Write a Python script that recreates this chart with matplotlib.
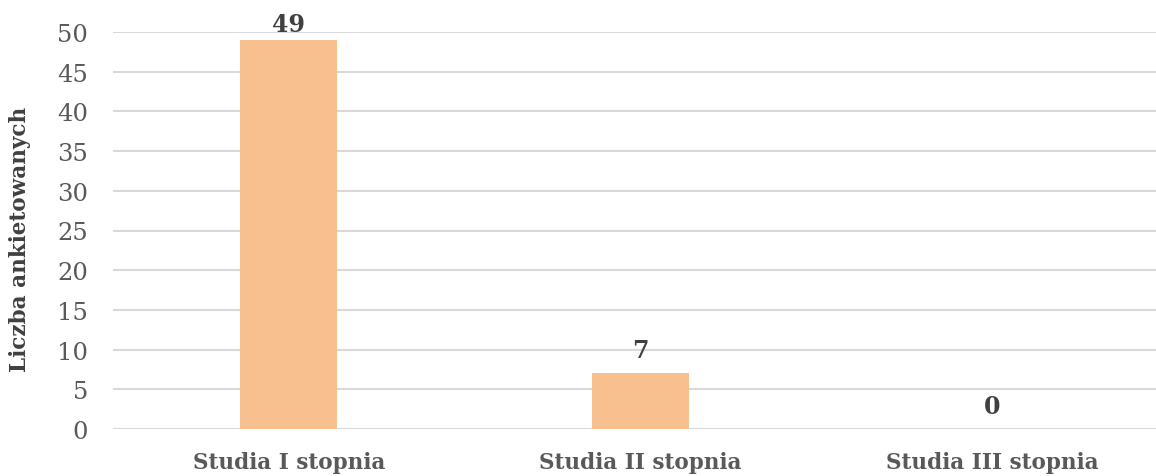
import matplotlib.pyplot as plt

categories = ["Studia I stopnia", "Studia II stopnia", "Studia III stopnia"]
counts = [49, 7, 0]
yticks = list(range(0, 55, 5))

BAR = "#F8BF8F"
GRID = "#D9D9D9"
SERIF = "DejaVu Serif"

fig = plt.figure(figsize=(11.56, 4.77), dpi=100)
W, H = 1156, 477
ax = fig.add_axes([113 / W, 47 / H, 1055 / W, 397 / H])

x = range(len(categories))
ax.bar(x, counts, width=0.276, color=BAR, zorder=3)
for xi, v in zip(x, counts):
    # labels near the top get pulled in so they stay inside the figure
    off = 8 if v < 45 else 3
    ax.annotate(str(v), (xi, v), xytext=(0, off), textcoords="offset points",
                ha="center", va="bottom", fontsize=17, fontweight="bold",
                color="#404040", family=SERIF)

ax.set_xlim(-0.5, len(categories) - 0.5)
ax.set_ylim(0, 50)
ax.set_yticks(yticks)
ax.yaxis.grid(True, color=GRID, linewidth=1.5, zorder=0)
ax.set_axisbelow(True)
for s in ax.spines.values():
    s.set_visible(False)
ax.tick_params(length=0)
ax.tick_params(axis="y", labelsize=17.5, labelcolor="#595959", pad=18)
ax.set_xticks(list(x))
ax.set_xticklabels(categories, fontsize=15.5, fontweight="bold", color="#595959")
ax.tick_params(axis="x", pad=16)
for lab in ax.get_xticklabels() + ax.get_yticklabels():
    lab.set_family(SERIF)

fig.text(20 / W, 238 / H, "Liczba ankietowanych", rotation=90, ha="center", va="center",
         fontsize=15.5, fontweight="bold", color="#404040", family=SERIF)

fig.savefig("out.png", dpi=100)
